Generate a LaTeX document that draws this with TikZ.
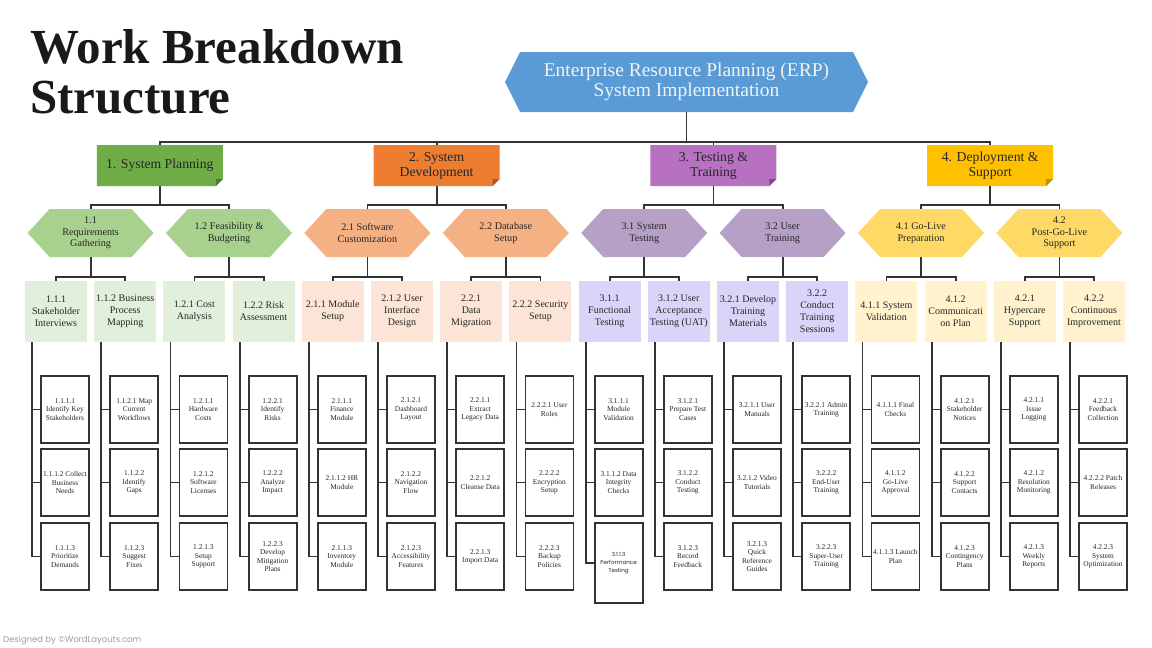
\documentclass[tikz,border=0pt]{standalone}
\usepackage{fontspec}
\setmainfont{Liberation Serif}
\newfontfamily\popfont{Poppins}
\usetikzlibrary{backgrounds}
\pgfdeclarelayer{bottom}
\pgfsetlayers{bottom,background,main}
\definecolor{linec}{HTML}{333333}
\definecolor{txt}{HTML}{262626}
\definecolor{topc}{HTML}{5B9BD5}
\definecolor{ga}{HTML}{70AD47}\definecolor{gad}{HTML}{4B7A2E}
\definecolor{oa}{HTML}{ED7D31}\definecolor{oad}{HTML}{B0561C}
\definecolor{pa}{HTML}{B871C1}\definecolor{pad}{HTML}{84478C}
\definecolor{ya}{HTML}{FFC000}\definecolor{yad}{HTML}{BF8F00}
\definecolor{gb}{HTML}{A9D18E}\definecolor{ob}{HTML}{F4B183}
\definecolor{pb}{HTML}{B6A0C6}\definecolor{yb}{HTML}{FFD966}
\definecolor{gc}{HTML}{E2EFDA}\definecolor{oc}{HTML}{FCE4D6}
\definecolor{pc}{HTML}{D9D4F8}\definecolor{yc}{HTML}{FFF2CC}
\newcommand\hexfill[3]{\begin{pgfonlayer}{background}\fill[#2] (#1.west) -- ([xshift=#3]#1.north west) -- ([xshift=-#3]#1.north east) -- (#1.east) -- ([xshift=-#3]#1.south east) -- ([xshift=#3]#1.south west) -- cycle;\end{pgfonlayer}}
\newcommand\foldfill[3]{\begin{pgfonlayer}{background}\fill[#2] (#1.north west) -- (#1.north east) -- ([yshift=7pt]#1.south east) -- ([xshift=-7pt]#1.south east) -- (#1.south west) -- cycle;\fill[#3] ([yshift=7pt]#1.south east) -- ([xshift=-7pt]#1.south east) -- ([xshift=-7pt,yshift=7pt]#1.south east) -- cycle;\end{pgfonlayer}}
\tikzset{
  conn/.style={draw=linec, line width=1.8pt},
  topbox/.style={inner sep=0pt, outer sep=0pt, minimum width=363pt, minimum height=60pt, align=center, text=white!95!black, font=\fontsize{19.5}{20.5}\selectfont},
  lonebox/.style={inner sep=0pt, outer sep=0pt, minimum width=126pt, minimum height=41pt, align=center, text=txt, font=\fontsize{13.7}{15}\selectfont},
  ltwobox/.style={inner sep=0pt, outer sep=0pt, minimum width=126pt, minimum height=48pt, align=center, text=txt, font=\fontsize{10.2}{11.5}\selectfont},
  lthreebox/.style={inner sep=0pt, outer sep=0pt, minimum width=62pt, minimum height=61pt, align=center, text=txt, font=\fontsize{10}{12}\selectfont},
  lfourbox/.style={draw=linec, line width=1.8pt, fill=white, inner sep=0pt, outer sep=0pt, minimum width=48pt, minimum height=67pt, align=center, text=txt, font=\fontsize{7.4}{8.3}\selectfont},
}
\begin{document}
\begin{tikzpicture}[x=1pt,y=-1pt]
\begin{pgfonlayer}{bottom}
\fill[white] (0,0) rectangle (1152,648);
\end{pgfonlayer}
\useasboundingbox (0,0) rectangle (1152,648);
% title
\node[anchor=base west, inner sep=0pt, text=black!90, font=\fontsize{49}{50}\selectfont\bfseries] (title1) at (30,63) {Work Breakdown};
\node[anchor=base west, inner sep=0pt, text=black!90, font=\fontsize{49}{50}\selectfont\bfseries] (title2) at (30,113) {Structure};
% top node
\node[topbox] (top) at (686.5,82) {Enterprise Resource Planning (ERP)\\System Implementation};
\hexfill{top}{topc}{15pt}
% level 1
\node[lonebox] (l1-0) at (159.8,165.5) {1. System Planning};
\node[lonebox] (l1-1) at (436.6,165.5) {2. System\\Development};
\node[lonebox] (l1-2) at (713.4,165.5) {3. Testing \&\\Training};
\node[lonebox] (l1-3) at (990.2,165.5) {4. Deployment \&\\Support};
\foldfill{l1-0}{ga}{gad}
\foldfill{l1-1}{oa}{oad}
\foldfill{l1-2}{pa}{pad}
\foldfill{l1-3}{ya}{yad}
% level 2
\foreach \k/\c/\t in {
0/gb/{1.1\\Requirements\\Gathering},
1/gb/{1.2 Feasibility \&\\Budgeting},
2/ob/{2.1 Software\\Customization},
3/ob/{2.2 Database\\Setup},
4/pb/{3.1 System\\Testing},
5/pb/{3.2 User\\Training},
6/yb/{4.1 Go-Live\\Preparation},
7/yb/{4.2\\Post-Go-Live\\Support}}{
  \node[ltwobox] (l2-\k) at ({90.6+138.4*\k},233) {\t};
  \hexfill{l2-\k}{\c}{22pt}
}
% level 3
\foreach \i/\c/\t in {
0/gc/{1.1.1\\Stakeholder\\Interviews},
1/gc/{1.1.2 Business\\Process\\Mapping},
2/gc/{1.2.1 Cost\\Analysis},
3/gc/{1.2.2 Risk\\Assessment},
4/oc/{2.1.1 Module\\Setup},
5/oc/{2.1.2 User\\Interface\\Design},
6/oc/{2.2.1\\Data\\Migration},
7/oc/{2.2.2 Security\\Setup},
8/pc/{3.1.1\\Functional\\Testing},
9/pc/{3.1.2 User\\Acceptance\\Testing (UAT)},
10/pc/{3.2.1 Develop\\Training\\Materials},
11/pc/{3.2.2\\Conduct\\Training\\Sessions},
12/yc/{4.1.1 System\\Validation},
13/yc/{4.1.2\\Communicati\\on Plan},
14/yc/{4.2.1\\Hypercare\\Support},
15/yc/{4.2.2\\Continuous\\Improvement}}{
  \node[lthreebox, fill=\c] (l3-\i) at ({56+69.2*\i},311.5) {\t};
}
% level 4
\foreach \i/\ta/\tb/\tc in {
0/{1.1.1.1\\Identify Key\\Stakeholders}/{1.1.1.2 Collect\\Business\\Needs}/{1.1.1.3\\Prioritize\\Demands},
1/{1.1.2.1 Map\\Current\\Workflows}/{1.1.2.2\\Identify\\Gaps}/{1.1.2.3\\Suggest\\Fixes},
2/{1.2.1.1\\Hardware\\Costs}/{1.2.1.2\\Software\\Licenses}/{1.2.1.3\\Setup\\Support},
3/{1.2.2.1\\Identify\\Risks}/{1.2.2.2\\Analyze\\Impact}/{1.2.2.3\\Develop\\Mitigation\\Plans},
4/{2.1.1.1\\Finance\\Module}/{2.1.1.2 HR\\Module}/{2.1.1.3\\Inventory\\Module},
5/{2.1.2.1\\Dashboard\\Layout}/{2.1.2.2\\Navigation\\Flow}/{2.1.2.3\\Accessibility\\Features},
6/{2.2.1.1\\Extract\\Legacy Data}/{2.2.1.2\\Cleanse Data}/{2.2.1.3\\Import Data},
7/{2.2.2.1 User\\Roles}/{2.2.2.2\\Encryption\\Setup}/{2.2.2.3\\Backup\\Policies},
8/{3.1.1.1\\Module\\Validation}/{3.1.1.2 Data\\Integrity\\Checks}/{},
9/{3.1.2.1\\Prepare Test\\Cases}/{3.1.2.2\\Conduct\\Testing}/{3.1.2.3\\Record\\Feedback},
10/{3.2.1.1 User\\Manuals}/{3.2.1.2 Video\\Tutorials}/{3.2.1.3\\Quick\\Reference\\Guides},
11/{3.2.2.1 Admin\\Training}/{3.2.2.2\\End-User\\Training}/{3.2.2.3\\Super-User\\Training},
12/{4.1.1.1 Final\\Checks}/{4.1.1.2\\Go-Live\\Approval}/{4.1.1.3 Launch\\Plan},
13/{4.1.2.1\\Stakeholder\\Notices}/{4.1.2.2\\Support\\Contacts}/{4.1.2.3\\Contingency\\Plans},
14/{4.2.1.1\\Issue\\Logging}/{4.2.1.2\\Resolution\\Monitoring}/{4.2.1.3\\Weekly\\Reports},
15/{4.2.2.1\\Feedback\\Collection}/{4.2.2.2 Patch\\Releases}/{4.2.2.3\\System\\Optimization}}{
  \node[lfourbox] (l4-\i-1) at ({65+69.2*\i},409.5) {\ta};
  \node[lfourbox] (l4-\i-2) at ({65+69.2*\i},482.5) {\tb};
  \ifnum\i=8
    \node[lfourbox, minimum height=80pt, font=\popfont\fontsize{5.6}{8}\selectfont] (l4-\i-3) at ({65+69.2*\i},563) {3.1.1.3\\Performance\\Testing};
  \else
    \node[lfourbox] (l4-\i-3) at ({65+69.2*\i},556.5) {\tc};
  \fi
  \draw[conn] ([xshift=-24pt]l3-\i.south) |- (l4-\i-3.west);
  \draw[conn] ([xshift=-24pt]l3-\i.south |- l4-\i-1.west) -- (l4-\i-1.west);
  \draw[conn] ([xshift=-24pt]l3-\i.south |- l4-\i-2.west) -- (l4-\i-2.west);
}
% connectors top -> level 1
\draw[conn] (top.south) -- ++(0,30) coordinate (bus);
\foreach \k in {0,1,2,3}{\draw[conn] (l1-\k.north) |- (bus);}
% level 1 -> level 2
\foreach \k in {0,1,2,3}{
  \pgfmathtruncatemacro\ka{2*\k}\pgfmathtruncatemacro\kb{2*\k+1}
  \draw[conn] (l1-\k.south) -- ++(0,19) -| (l2-\ka.north);
  \draw[conn] (l1-\k.south) -- ++(0,19) -| (l2-\kb.north);
}
% level 2 -> level 3
\foreach \k in {0,...,7}{
  \pgfmathtruncatemacro\ka{2*\k}\pgfmathtruncatemacro\kb{2*\k+1}
  \draw[conn] (l2-\k.south) -- ++(0,20) -| (l3-\ka.north);
  \draw[conn] (l2-\k.south) -- ++(0,20) -| (l3-\kb.north);
}
% footer
\node[anchor=base west, inner sep=0pt, text=black!38, font=\popfont\fontsize{8.5}{10}\selectfont] (foot) at (3,642) {Designed by ©WordLayouts.com};
\end{tikzpicture}
\end{document}
